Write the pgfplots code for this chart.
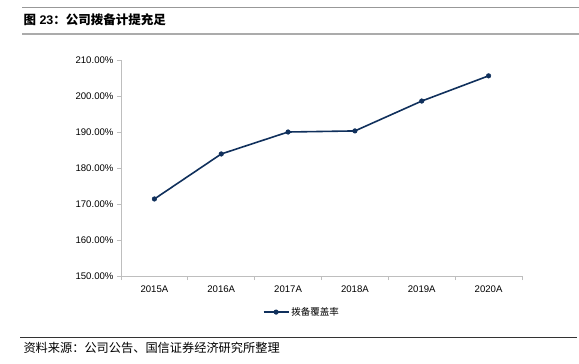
\documentclass[border=0pt]{standalone}
\usepackage{pgfplots}
\pgfplotsset{compat=1.18}
\usepackage{fontspec}
\setmainfont{Liberation Sans}
\newfontfamily\cjk{Noto Sans CJK SC}
\definecolor{navy}{RGB}{16,48,92}
\definecolor{axgray}{RGB}{190,190,190}
\begin{document}
\begin{tikzpicture}[x=1pt,y=1pt]
\useasboundingbox (0,0) rectangle (579,-364);
% header lines
\draw[color=axgray!80!black,line width=0.8pt] (22,-7) -- (579,-7);
\draw[color=axgray!90!black,line width=2pt] (22,-34) -- (579,-34);
\node[anchor=west,font=\bfseries\fontsize{12.5}{14}\selectfont] at (20,-20) {{\cjk 图} 23{\cjk ：}{\cjk 公司拨备计提充足}};
% source
\draw[color=black!80,line width=0.8pt] (20,-337.5) -- (577,-337.5);
\node[anchor=west,font=\cjk\fontsize{12.2}{13}\selectfont] at (20,-348) {资料来源：公司公告、国信证券经济研究所整理};
\begin{axis}[
  at={(121pt,-276pt)}, anchor=south west,
  scale only axis, width=401pt, height=216pt,
  xmin=-0.5, xmax=5.5, ymin=150, ymax=210,
  axis lines*=left,
  axis line style={color=axgray, line width=0.8pt},
  xtick={0,...,5},
  xticklabels={2015A,2016A,2017A,2018A,2019A,2020A},
  minor xtick={-0.5,0.5,...,5.5},
  major x tick style={draw=none},
  ytick={150,160,...,210},
  tick align=outside,
  tick style={color=axgray, line width=0.8pt},
  major tick length=4pt, minor tick length=4pt,
  /pgf/number format/assume math mode=true,
  yticklabel={\pgfmathprintnumber[fixed,fixed zerofill,precision=2]{\tick}\%},
  ticklabel style={font=\fontsize{9.6}{11}\selectfont, color=black},
  xticklabel style={yshift=-2pt},
  legend style={at={(0.451,-0.167)}, anchor=center, draw=none, fill=none,
    font=\cjk\fontsize{9.5}{11}\selectfont, inner sep=1pt},
  legend image code/.code={\draw[#1,mark repeat=2,mark phase=2] plot coordinates {(0pt,0pt)(12.5pt,0pt)(25pt,0pt)};},
]
\addplot[color=navy, line width=1.6pt, mark=*, mark size=2.3pt, mark options={fill=navy,line width=0.5pt}]
  coordinates {(0,171.4)(1,183.9)(2,190.0)(3,190.3)(4,198.6)(5,205.6)};
\addlegendentry{拨备覆盖率}
\end{axis}
\end{tikzpicture}
\end{document}
